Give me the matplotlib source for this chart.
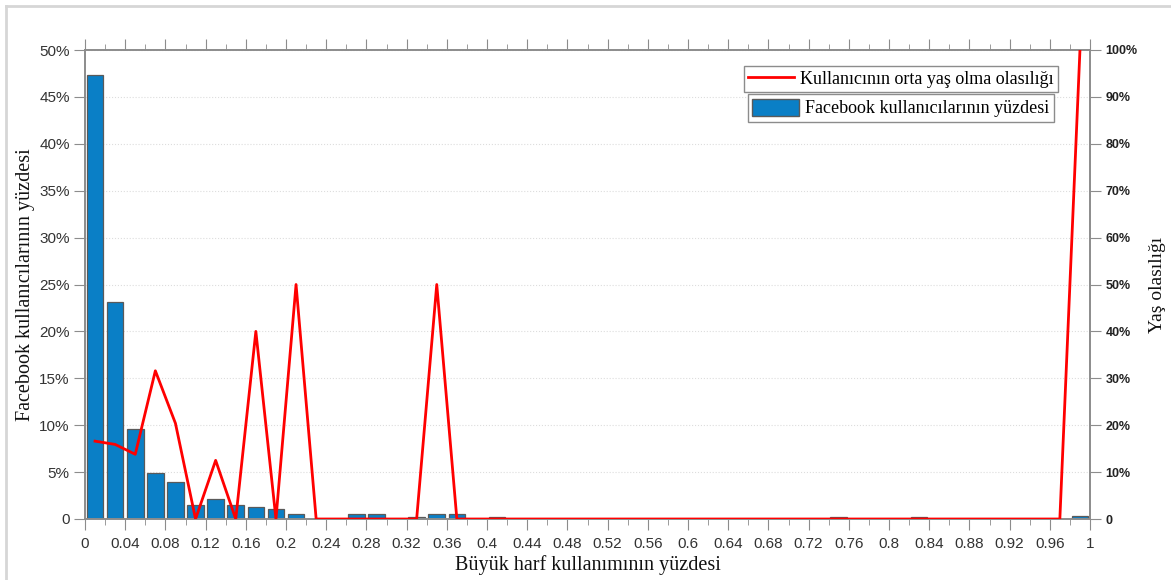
import numpy as np
import matplotlib.pyplot as plt
from matplotlib.ticker import MultipleLocator, FuncFormatter
from matplotlib.lines import Line2D
from matplotlib.patches import Patch

# bin centres (width 0.02) for the share of capital letters
centres = np.round(np.arange(0.01, 1.0, 0.02), 2)

# share of facebook users per bin (%)
users_pct = {
    0.01: 47.3, 0.03: 23.1, 0.05: 9.6, 0.07: 4.9, 0.09: 3.9,
    0.11: 1.5, 0.13: 2.1, 0.15: 1.5, 0.17: 1.3, 0.19: 1.05,
    0.21: 0.5, 0.27: 0.5, 0.29: 0.5, 0.33: 0.25, 0.35: 0.5,
    0.37: 0.5, 0.41: 0.25, 0.75: 0.25, 0.83: 0.25, 0.99: 0.3,
}
# probability of being middle aged per bin (%)
mid_age_prob = {
    0.01: 16.6, 0.03: 15.9, 0.05: 13.8, 0.07: 31.6, 0.09: 20.4,
    0.11: 0.0, 0.13: 12.5, 0.15: 0.0, 0.17: 40.0, 0.19: 0.0,
    0.21: 50.0, 0.35: 50.0, 0.99: 100.0,
}

bars = np.array([users_pct.get(c, 0.0) for c in centres])
prob = np.array([mid_age_prob.get(c, 0.0) for c in centres])

lbl_x = "Büyük harf kullanımının yüzdesi"
lbl_y1 = "Facebook kullanıcılarının yüzdesi"
lbl_y2 = "Yaş olasılığı"
leg_line = "Kullanıcının orta yaş olma olasılığı"
leg_bar = "Facebook kullanıcılarının yüzdesi"

serif = ["Liberation Serif", "DejaVu Serif"]
plt.rcParams['font.family'] = ["Liberation Sans", "DejaVu Sans"]


def pct(v, pos):
    return "0" if v == 0 else f"{v:.0f}%"


def main():
    fig = plt.figure(figsize=(11.71, 5.8), dpi=100)
    ax = fig.add_axes([85/1171, 61/580, 1005/1171, 469/580])
    ax2 = ax.twinx()

    # subtle frame around the figure
    fig.add_artist(Line2D([6/1171, 6/1171], [0, 1 - 6/580], transform=fig.transFigure,
                          color='#d6d6d6', lw=2))
    fig.add_artist(Line2D([6/1171, 1], [1 - 6/580, 1 - 6/580], transform=fig.transFigure,
                          color='#d6d6d6', lw=2))

    bcol = '#0a7fc6'
    ax.bar(centres, bars, width=0.0165, color=bcol, edgecolor='#5a5a5a', linewidth=0.9, zorder=2)
    ax2.plot(centres, prob, color='#ff0000', lw=2.0, zorder=3)

    ax.set_xlim(0, 1)
    ax.set_ylim(0, 50)
    ax2.set_ylim(0, 100)

    ax.xaxis.set_major_locator(MultipleLocator(0.04))
    ax.xaxis.set_minor_locator(MultipleLocator(0.02))
    ax.xaxis.set_major_formatter(FuncFormatter(lambda v, p: f"{v:.2f}".rstrip('0').rstrip('.') if v else "0"))
    ax.yaxis.set_major_locator(MultipleLocator(5))
    ax.yaxis.set_major_formatter(FuncFormatter(pct))
    ax2.yaxis.set_major_locator(MultipleLocator(10))
    ax2.yaxis.set_major_formatter(FuncFormatter(pct))

    gray = '#8c8c8c'
    ax.tick_params(axis='x', which='major', top=True, direction='out', length=8,
                   color=gray, labelsize=11, labelcolor='#333333', pad=5)
    ax.tick_params(axis='x', which='minor', top=True, direction='out', length=4, color=gray)
    ax.tick_params(axis='y', direction='out', length=8, color=gray,
                   labelsize=11, labelcolor='#333333', pad=3)
    ax2.tick_params(axis='y', direction='out', length=8, color=gray,
                    labelsize=9, labelcolor='#222222', pad=3)
    for t in ax2.get_yticklabels():
        t.set_fontweight('bold')

    for a in (ax, ax2):
        for s in a.spines.values():
            s.set_color(gray)
            s.set_linewidth(1.2)

    ax.grid(True, axis='y', color='#dddddd', linestyle=':', linewidth=0.8, zorder=0)
    ax.set_axisbelow(True)

    ax.set_xlabel(lbl_x, family=serif, fontsize=14.5, color='#111111', labelpad=3)
    ax.set_ylabel(lbl_y1, family=serif, fontsize=14.5, color='#111111', labelpad=3)
    ax2.set_ylabel(lbl_y2, family=serif, fontsize=14, color='#111111', labelpad=8)

    leg_kw = dict(frameon=True, fancybox=False, shadow=False, framealpha=1,
                  edgecolor='#8c8c8c', prop={'family': serif, 'size': 13},
                  borderpad=0.25, handletextpad=0.35, borderaxespad=0, bbox_transform=fig.transFigure)
    l1 = ax2.legend([Line2D([], [], color='#ff0000', lw=2)], [leg_line], loc='upper right',
                    bbox_to_anchor=(1058/1171, 1 - 66/580), handlelength=2.5, **leg_kw)
    ax2.add_artist(l1)
    ax2.legend([Patch(facecolor=bcol, edgecolor='#5a5a5a')], [leg_bar], loc='upper right',
               bbox_to_anchor=(1054/1171, 1 - 94/580), handlelength=2.6, handleheight=1.1, **leg_kw)

    fig.savefig("out.png", dpi=100)
    plt.close()


if __name__ == "__main__":
    main()
